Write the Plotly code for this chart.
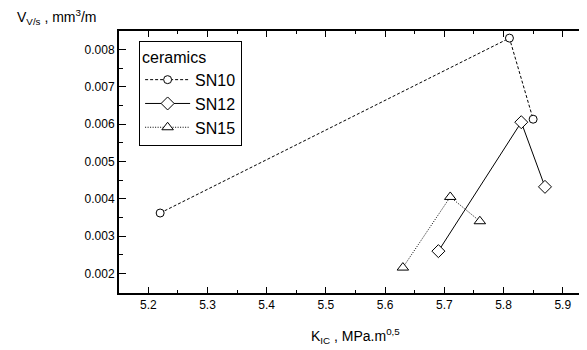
import plotly.graph_objects as go

sn10_x = [5.22, 5.81, 5.85]
sn10_y = [0.00362, 0.00830, 0.00613]
sn12_x = [5.69, 5.83, 5.87]
sn12_y = [0.00260, 0.00605, 0.00432]
sn15_x = [5.63, 5.71, 5.76]
sn15_y = [0.00216, 0.00405, 0.00340]

x_ticks = [5.2, 5.3, 5.4, 5.5, 5.6, 5.7, 5.8, 5.9]
y_ticks = [0.002, 0.003, 0.004, 0.005, 0.006, 0.007, 0.008]

FONT = "Liberation Sans, Arial, sans-serif"

fig = go.Figure()
series = [
    ("SN10", sn10_x, sn10_y, "3px,2px", "circle", 8),
    ("SN12", sn12_x, sn12_y, "solid", "diamond", 10),
    ("SN15", sn15_x, sn15_y, "1px,1.5px", "triangle-up", 10),
]
for name, xs, ys, dash, sym, size in series:
    fig.add_trace(go.Scatter(
        x=xs, y=ys, name=name, mode="lines+markers",
        line=dict(color="black", width=1, dash=dash),
        marker=dict(symbol=sym, size=size, color="white",
                    line=dict(color="black", width=1)),
    ))

# The page body adds an 8px offset, so the figure is sized to fill the rest.
fig.update_layout(
    width=579, height=342,
    margin=dict(l=111, r=0, t=23, b=57.3, autoexpand=False),
    plot_bgcolor="white", paper_bgcolor="white",
    font=dict(family=FONT, size=12, color="black"),
    showlegend=True,
    legend=dict(
        x=0.043, y=0.962, xanchor="left", yanchor="top",
        bgcolor="white", bordercolor="black", borderwidth=1,
        title=dict(text="ceramics", font=dict(size=16)),
        font=dict(size=16),
        tracegroupgap=0, itemwidth=45,
    ),
    xaxis=dict(
        range=[5.1505, 5.941], tickvals=x_ticks,
        ticktext=[str(v) for v in x_ticks],
        showgrid=False, zeroline=False, automargin=False,
        showline=True, linecolor="black", linewidth=1.5,
        mirror="allticks", ticks="inside", ticklen=6, tickwidth=1,
        tickcolor="black",
        minor=dict(dtick=0.05, tick0=5.15, ticks="inside", ticklen=3,
                   tickcolor="black", tickwidth=1),
    ),
    yaxis=dict(
        range=[0.00148, 0.00849], tickvals=y_ticks,
        ticktext=[f"{v:.3f}" for v in y_ticks],
        showgrid=False, zeroline=False, automargin=False,
        showline=True, linecolor="black", linewidth=2,
        mirror=False, ticks="inside", ticklen=7, tickwidth=1,
        tickcolor="black",
        minor=dict(dtick=0.0005, tick0=0.0015, ticks="inside", ticklen=4,
                   tickcolor="black", tickwidth=1),
    ),
    annotations=[
        dict(text="V<sub>V/s</sub> , mm<sup>3</sup>/m", xref="paper", yref="paper",
             x=-0.222, y=1.0535, xanchor="left", yanchor="middle",
             showarrow=False, font=dict(size=14)),
        dict(text="K<sub>IC</sub> , MPa.m<sup>0,5</sup>", xref="paper", yref="paper",
             x=(355 - 119) / 468, y=-(336 - 292.7) / 261.7, xanchor="center",
             yanchor="middle", showarrow=False, font=dict(size=14)),
    ],
)

fig.write_html("out.html")
